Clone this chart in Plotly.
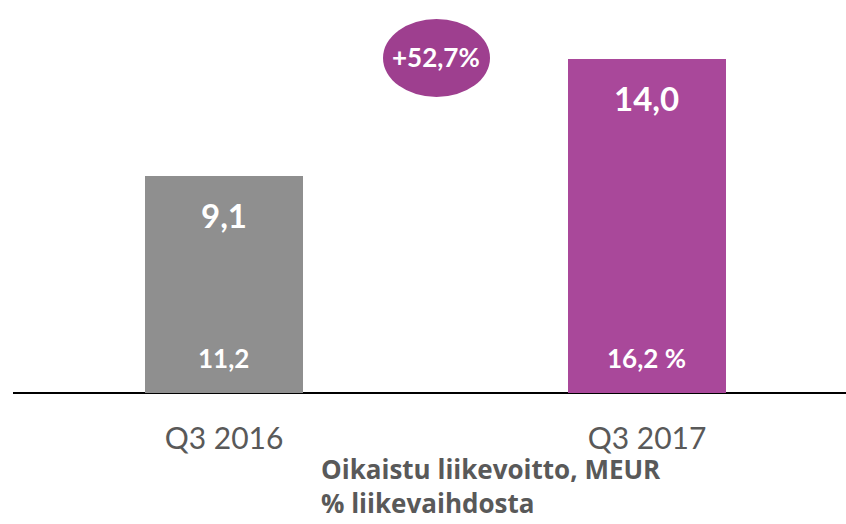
import plotly.graph_objects as go

categories = ["Q3 2016", "Q3 2017"]
profit_meur = [9.1, 14.0]
profit_labels = ["9,1", "14,0"]
margin_labels = ["11,2", "16,2 %"]
change_label = "+52,7%"
legend_lines = ["Oikaistu liikevoitto, MEUR", "% liikevaihdosta"]
bar_colors = ["#8f8f8f", "#a9489a"]

W, H = 846, 524
L, B = 13, 131
PW, PH = W - L, H - B
FONT = "Lato, Open Sans, sans-serif"
xs = list(range(len(categories)))


def px(x):
    return (x - L) / PW


def py(y):
    return (PH - y) / PH


fig = go.Figure()
fig.add_trace(go.Bar(
    x=xs, y=profit_meur, width=0.3735,
    marker=dict(color=bar_colors, line=dict(width=0)),
    hoverinfo="skip", showlegend=False,
))

annotations = []
for x, v, lab, mlab in zip(xs, profit_meur, profit_labels, margin_labels):
    annotations.append(dict(x=x, y=v, xref="x", yref="y", text=f"<b>{lab}</b>",
                            showarrow=False, yshift=-39,
                            font=dict(family=FONT, size=33, color="white")))
    annotations.append(dict(x=x, y=0, xref="x", yref="y", text=f"<b>{mlab}</b>",
                            showarrow=False, yshift=35,
                            font=dict(family=FONT, size=26, color="white")))

annotations.append(dict(x=px(436), y=py(57), xref="paper", yref="paper",
                        xanchor="center", yanchor="middle",
                        text=f"<b>{change_label}</b>", showarrow=False,
                        font=dict(family=FONT, size=26, color="white")))
annotations.append(dict(x=px(319), y=py(523), xref="paper", yref="paper",
                        xanchor="left", yanchor="bottom", align="left",
                        text="<br>".join(f"<b>{t}</b>" for t in legend_lines),
                        showarrow=False,
                        font=dict(family="Open Sans, sans-serif", size=26, color="#595959")))

fig.update_layout(
    width=W, height=H,
    margin=dict(l=L, r=0, t=0, b=B, autoexpand=False),
    plot_bgcolor="white", paper_bgcolor="white",
    annotations=annotations,
    shapes=[dict(type="circle", xref="paper", yref="paper",
                 x0=px(383), x1=px(490), y0=py(97), y1=py(19),
                 fillcolor="#9e3f8f", line=dict(width=0), layer="above")],
    bargap=0,
)
fig.update_xaxes(
    range=[-0.4988, 1.4705], tickmode="array", tickvals=xs, ticktext=categories,
    showgrid=False, zeroline=False, showline=False, ticks="",
    ticklabelstandoff=25,
    tickfont=dict(family=FONT, size=30, color="#595959"),
)
fig.update_yaxes(range=[0, 16.48], showgrid=False, zeroline=True,
                 zerolinecolor="black", zerolinewidth=1.5,
                 showticklabels=False, ticks="")

fig.write_html("out.html", config={"displayModeBar": False},
               post_script="document.body.style.margin='0';document.body.style.overflow='hidden';")
